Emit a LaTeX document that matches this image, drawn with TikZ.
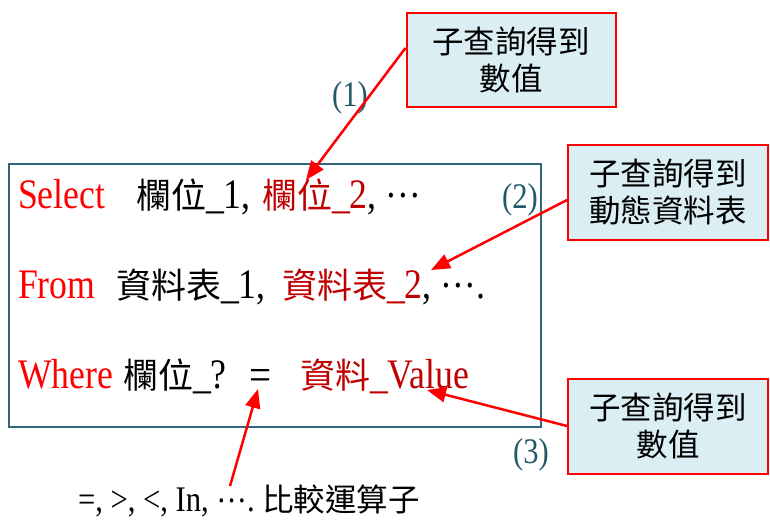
\documentclass[tikz,border=0pt]{standalone}
\usepackage{fontspec}
\setmainfont{Liberation Serif}
\newfontfamily\lat[FakeStretch=0.85]{Liberation Serif}
\newfontfamily\cjk{Noto Sans CJK TC}
\usetikzlibrary{arrows.meta}
\definecolor{kwred}{HTML}{FF0000}
\definecolor{drred}{HTML}{C00000}
\definecolor{boxfill}{HTML}{DBEEF4}
\definecolor{boxteal}{HTML}{31657A}
\definecolor{numteal}{HTML}{215968}
\newcommand{\latbig}{\lat\fontsize{42}{42}\selectfont}
\newcommand{\cjkbig}{\cjk\fontsize{35}{35}\selectfont}
\newcommand{\middots}{\raisebox{0.25em}{…}}
\begin{document}
\begin{tikzpicture}[x=1pt,y=-1pt,
  seg/.style={anchor=base west,inner sep=0pt,outer sep=0pt},
  callout/.style={draw=kwred,line width=2pt,fill=boxfill,inner sep=0pt,
    align=center,font=\cjk\fontsize{31.5}{37}\selectfont},
  num/.style={inner sep=0pt,text=numteal,font=\lat\fontsize{36}{36}\selectfont},
  pointer/.style={draw=kwred,line width=2.5pt,-{Triangle[length=19pt,width=15pt]}}]
\useasboundingbox (0,0) rectangle (770,522);
% main box
\node[draw=boxteal,line width=2pt,minimum width=532pt,minimum height=263pt,
  anchor=north west,inner sep=0pt] (main) at (8,163) {};
% line 1
\node[seg,text=kwred] (sel) at (18,208) {\latbig Select};
\node[seg] (f1) at (136,208) {\cjkbig 欄位\latbig\_1,};
\node[seg,text=drred] (f2) at (262,208) {\cjkbig 欄位\latbig\_2};
\node[seg] (f3) at (f2.base east) {\latbig, \middots};
% line 2
\node[seg,text=kwred] (frm) at (18,298) {\latbig From};
\node[seg] (t1) at (116,298) {\cjkbig 資料表\latbig\_1,};
\node[seg,text=drred] (t2) at (282,298) {\cjkbig 資料表\latbig\_2};
\node[seg] (t3) at (t2.base east) {\latbig, \middots.};
% line 3
\node[seg,text=kwred] (whr) at (18,388) {\latbig Where};
\node[seg] (w1) at (123,388) {\cjkbig 欄位\latbig\_?};
\node[seg] (eq) at (249,390) {\lat\fontsize{46}{46}\selectfont =};
\node[seg,text=drred] (val) at (300,388) {\cjkbig 資料\latbig\_Value};
% callouts
\node[callout,minimum width=209pt,minimum height=94pt] (c1) at (511,60) {子查詢得到\\數值};
\node[callout,minimum width=200pt,minimum height=95pt] (c2) at (668,192) {子查詢得到\\動態資料表};
\node[callout,minimum width=200pt,minimum height=95pt] (c3) at (668,426) {子查詢得到\\數值};
% numbers
\node[num] (n1) at (350,98) {(1)};
\node[num] (n2) at (520,200) {(2)};
\node[num] (n3) at (531,455) {(3)};
% bottom text
\node[seg] (ops) at (78,511) {\lat\fontsize{36}{36}\selectfont =, >, <, In, \middots.\ \cjk\fontsize{31.5}{31.5}\selectfont 比較運算子};
% arrow tips
\coordinate (tip1) at (306,180);
\coordinate (tip2) at (431,270);
\coordinate (tip3) at (427,390);
\coordinate (tip4) at (258,389);
\coordinate (src4) at (230,486);
\draw[pointer] ([yshift=12pt]c1.west) -- (tip1);
\draw[pointer] ([yshift=-8pt]c2.west) -- (tip2);
\draw[pointer] (c3.west) -- (tip3);
\draw[pointer] (src4) -- (tip4);
\end{tikzpicture}
\end{document}
